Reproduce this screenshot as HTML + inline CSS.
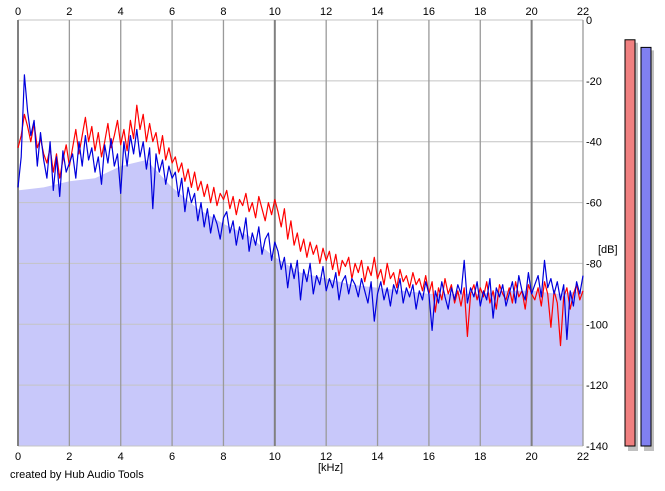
<!DOCTYPE html>
<html><head><meta charset="utf-8"><style>
body{margin:0;background:#fff;width:665px;height:486px;overflow:hidden;font-family:"Liberation Sans",sans-serif;}
svg text{font-family:"Liberation Sans",sans-serif;font-size:11px;fill:#000;}
</style></head><body>
<svg id="chart" width="665" height="486" xmlns="http://www.w3.org/2000/svg">
<g id="fill"></g>
<g id="grid"></g>
<g id="series"></g>
<g id="axes"></g>
<g id="meters"></g>
<text x="10" y="478">created by Hub Audio Tools</text>
<text x="318" y="471">[kHz]</text>
<text x="598" y="253">[dB]</text>
</svg>
<script>
const xTicks=[0,2,4,6,8,10,12,14,16,18,20,22];
const yTicks=[0,-20,-40,-60,-80,-100,-120,-140];
const step=0.125;
const redValues=[-42,-38,-31,-35,-40,-34,-42,-39,-44,
-47,-42,-50,-44,-52,-46,-41,-48,
-42,-36,-44,-38,-32,-40,-35,-43,
-37,-45,-40,-34,-42,-38,-33,-41,
-36,-43,-33,-39,-28,-36,-31,-40,
-34,-40,-37,-44,-38,-46,-42,-47,
-45,-50,-47,-53,-49,-55,-50,-56,
-53,-58,-54,-60,-55,-61,-57,-59,
-56,-62,-58,-64,-59,-61,-57,-63,
-60,-65,-58,-62,-66,-60,-64,-59,
-63,-68,-62,-72,-66,-74,-70,-76,
-72,-78,-73,-77,-74,-80,-75,-79,
-76,-82,-77,-84,-79,-81,-78,-85,
-80,-83,-79,-86,-81,-84,-78,-85,
-82,-87,-80,-85,-83,-88,-82,-86,
-84,-88,-83,-87,-85,-89,-84,-90,
-86,-96,-88,-92,-85,-90,-87,-93,
-89,-94,-88,-104,-90,-87,-92,-88,
-91,-86,-93,-89,-95,-87,-90,-92,
-88,-93,-86,-91,-89,-95,-87,-90,
-92,-88,-94,-86,-90,-101,-89,-93,
-107,-91,-88,-95,-90,-87,-92,-89];
const blueValues=[-55,-45,-18,-30,-38,-33,-48,-37,-46,
-52,-40,-56,-45,-58,-43,-50,-47,
-44,-52,-40,-48,-38,-46,-42,-50,
-45,-54,-41,-47,-39,-48,-44,-57,
-40,-48,-38,-44,-36,-45,-40,-49,
-42,-62,-44,-50,-46,-54,-48,-52,
-50,-58,-52,-63,-55,-60,-57,-66,
-60,-68,-62,-70,-64,-67,-72,-65,
-63,-70,-66,-74,-68,-72,-65,-76,
-70,-74,-68,-77,-72,-70,-79,-73,
-76,-82,-78,-88,-80,-85,-79,-92,
-82,-86,-80,-90,-84,-87,-81,-89,
-85,-88,-83,-92,-86,-84,-90,-85,
-87,-91,-85,-89,-93,-86,-99,-90,
-86,-92,-88,-94,-87,-90,-85,-93,
-88,-91,-87,-95,-89,-92,-86,-90,
-102,-89,-93,-86,-91,-95,-88,-92,
-87,-90,-79,-93,-88,-91,-86,-94,
-89,-92,-85,-98,-88,-91,-87,-94,
-90,-86,-93,-84,-89,-92,-83,-90,
-87,-84,-91,-79,-88,-85,-90,-86,
-92,-87,-105,-89,-94,-86,-90,-84];
const fillFreqs=[0,1,2,3,4,5,6,7,8,9,10,11,12,13,14,15,16,17,18,19,20,21,22];
const fillValues=[-56,-55,-53,-52,-48,-46,-55,-62,-67,-71,-78,-83,-85,-87,-88,-89,-90,-90,-90,-89,-89,-90,-89];
const meterLabels=['left','right'];
const meterValues=[-6.5,-9];

const NS='http://www.w3.org/2000/svg';
const X0=18,X1=583,Y0=20,Y1=446;
const xs=f=>X0+(f/22)*(X1-X0);
const ys=d=>Y0+(-d/140)*(Y1-Y0);
function mk(tag,attrs,parent){const e=document.createElementNS(NS,tag);for(const k in attrs)e.setAttribute(k,attrs[k]);parent.appendChild(e);return e;}
const gFill=document.getElementById('fill'),gGrid=document.getElementById('grid'),gS=document.getElementById('series'),gA=document.getElementById('axes'),gM=document.getElementById('meters');

let fp='M'+xs(0)+','+Y1;
fillFreqs.forEach((f,i)=>{fp+=' L'+xs(f).toFixed(1)+','+ys(fillValues[i]).toFixed(1);});
fp+=' L'+xs(22)+','+Y1+' Z';
const fa=mk('path',{d:fp,fill:'#c8c8fa'},gFill);



yTicks.forEach(v=>{
  const l=mk('line',{x1:X0,x2:X1,y1:ys(v),y2:ys(v),stroke:'#c4c4c4','stroke-width':1},gGrid);
  
  
  const t=mk('text',{x:X1+3,y:ys(v)+4},gA);t.textContent=v;
  
  
});
xTicks.forEach(v=>{
  const major=(v%10===0);
  const l=mk('line',{x1:xs(v),x2:xs(v),y1:Y0,y2:Y1,stroke:major?'#808080':'#9a9a9a','stroke-width':major?2:1.3},gGrid);
  
  
  const t=mk('text',{x:xs(v),y:15,'text-anchor':'middle'},gA);t.textContent=v;
  
  
  const b=mk('text',{x:xs(v),y:460,'text-anchor':'middle'},gA);b.textContent=v;
  
  
});

function line(vals,color,name){
  const d=vals.map((v,i)=>(i?'L':'M')+xs(i*step).toFixed(1)+','+ys(v).toFixed(1)).join(' ');
  const p=mk('path',{d:d,fill:'none',stroke:color,'stroke-width':1.2,'stroke-linejoin':'round'},gS);
  
  
}
line(redValues,'#ff0000','red-channel-line');
line(blueValues,'#0000dd','blue-channel-line');

const mx=[625,641],mc=['#f08080','#8080f0'];
meterValues.forEach((v,i)=>{
  const sh=mk('rect',{x:mx[i]+3,y:ys(v)+3,width:10,height:Y1-ys(v)+2,fill:'#c0c0c0'},gM);
  
  
  const r=mk('rect',{x:mx[i],y:ys(v),width:10,height:Y1-ys(v),fill:mc[i],stroke:'#000','stroke-width':1},gM);
  
  
});
</script>
</body></html>
